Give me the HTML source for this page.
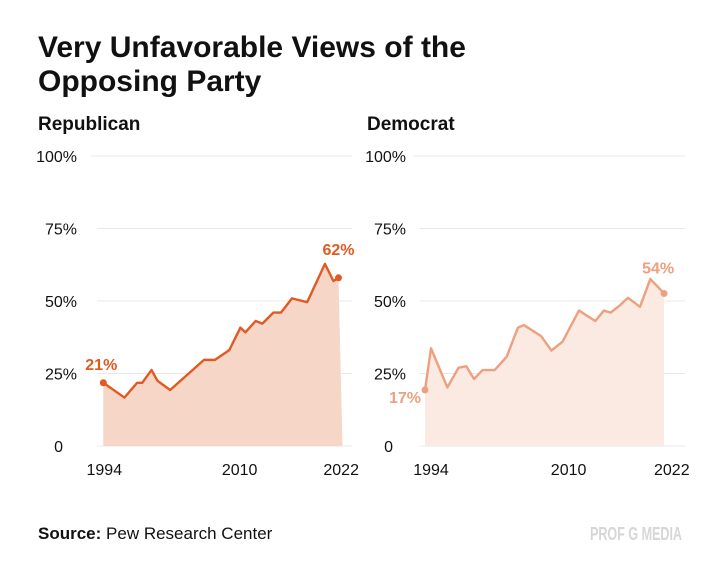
<!DOCTYPE html>
<html><head><meta charset="utf-8"><style>
body{margin:0;background:#fff;width:720px;height:573px;overflow:hidden}
svg{display:block}
text{font-family:"Liberation Sans",sans-serif}
</style></head><body>
<svg id="c" width="720" height="573">
<text x="38" y="57" font-size="30" font-weight="bold" fill="#111">Very Unfavorable Views of the</text>
<text x="38" y="91" font-size="30" font-weight="bold" fill="#111">Opposing Party</text>
<text x="38" y="130" font-size="19" font-weight="bold" fill="#111">Republican</text>
<text x="367" y="130" font-size="19" font-weight="bold" fill="#111">Democrat</text>
<text x="38" y="539" font-size="17" fill="#111"><tspan font-weight="bold">Source:</tspan> Pew Research Center</text>
<text x="682" y="540" font-size="18" font-weight="bold" fill="#d6d6d6" text-anchor="end" textLength="92" lengthAdjust="spacingAndGlyphs">PROF G MEDIA</text>
</svg>
<script>
const yTicks=[0,25,50,75,100];
const yTickLabels=["0","25%","50%","75%","100%"];
const xTicks=[1994,2010,2022];
const repYears=[1994,1996.5,1998.0,1998.6,1999.7,2000.4,2001.9,2005.9,2007.2,2008.9,2010.2,2010.8,2012.0,2012.8,2014.1,2015.0,2016.3,2018.1,2020.2,2021.2,2021.8];
const repValues=[21.8,16.7,21.8,21.8,26.2,22.5,19.3,29.7,29.7,33.1,40.8,39.2,43.1,42.2,46,46,50.9,49.6,62.8,56.9,58];
const demYears=[1994,1994.7,1996.6,1997.9,1998.8,1999.7,2000.7,2002.1,2003.5,2004.8,2005.5,2007.5,2008.7,2010.0,2011.9,2013.8,2014.8,2015.6,2016.7,2017.6,2019.0,2020.2,2021.8];
const demValues=[19.3,33.7,20.2,27,27.5,23.1,26.2,26.2,30.8,40.8,41.7,37.9,32.9,36,46.7,43.1,46.7,46,48.6,51.1,48,57.6,52.6];
const repLabels=["21%","62%"];
const demLabels=["17%","54%"];

const svg=document.getElementById('c');
const NS='http://www.w3.org/2000/svg';
function mk(tag,attrs,parent){const e=document.createElementNS(NS,tag);for(const k in attrs)e.setAttribute(k,attrs[k]);(parent||svg).appendChild(e);return e;}
const yScale=v=>446-v*2.9;

function panel(o){
  const g=mk('g',{});
  
  
  const xs=y=>o.x0+(y-1994)*o.k;
  yTicks.forEach((t,i)=>{
    const gl=mk('line',{x1:t==100?o.g100:o.gl,x2:o.gr,y1:yScale(t),y2:yScale(t),stroke:'#e8e8e8','stroke-width':1},g);
    
    
    const tx=mk('text',{x:t==0?o.zeroX:o.lx,y:yScale(t)+6,'font-size':16,fill:'#111','text-anchor':'end'},g);
    tx.textContent=yTickLabels[i];
    
    
  });
  xTicks.forEach(t=>{
    const tx=mk('text',{x:xs(t)+o.lblOff,y:475,'font-size':16,fill:'#111','text-anchor':'middle'},g);
    tx.textContent=t;
    
    
  });
  const pts=o.years.map((y,i)=>[xs(y),yScale(o.vals[i])]);
  const last=pts[pts.length-1];
  let d='M'+pts[0][0]+','+yScale(0)+' '+pts.map(p=>'L'+p[0]+','+p[1]).join(' ')+' L'+(last[0]+o.fillExt)+','+yScale(0)+'Z';
  const a=mk('path',{d:d,fill:o.fill},g);
  
  
  const l=mk('polyline',{points:pts.map(p=>p.join(',')).join(' '),fill:'none',stroke:o.color,'stroke-width':2.4,'stroke-linejoin':'round'},g);
  
  
  [pts[0],last].forEach((p,j)=>{
    const c=mk('circle',{cx:p[0],cy:p[1],r:3.5,fill:o.color},g);
    
    
  });
  const t1=mk('text',{x:pts[0][0]+o.l1dx,y:pts[0][1]+o.l1dy,'font-size':16,'font-weight':'bold',fill:o.color,'text-anchor':'middle'},g);
  t1.textContent=o.labels[0];
  
  
  const t2=mk('text',{x:last[0]+o.l2dx,y:last[1]+o.l2dy,'font-size':16,'font-weight':'bold',fill:o.color,'text-anchor':'middle'},g);
  t2.textContent=o.labels[1];
  
  
}
panel({name:'republican',x0:103.3,k:8.46,gl:97,g100:90,gr:352,lx:77,zeroX:63,lblOff:1,years:repYears,vals:repValues,color:'#e05a23',fill:'#f6d6c7',labels:repLabels,fillExt:4,l1dx:-2,l1dy:-13,l2dx:0,l2dy:-23});
panel({name:'democrat',x0:425,k:8.6,gl:420,g100:413,gr:685,lx:406,zeroX:393,lblOff:6,years:demYears,vals:demValues,color:'#eca07f',fill:'#fbeae2',labels:demLabels,fillExt:0,l1dx:-20,l1dy:13,l2dx:-6,l2dy:-20});
</script>
</body></html>
